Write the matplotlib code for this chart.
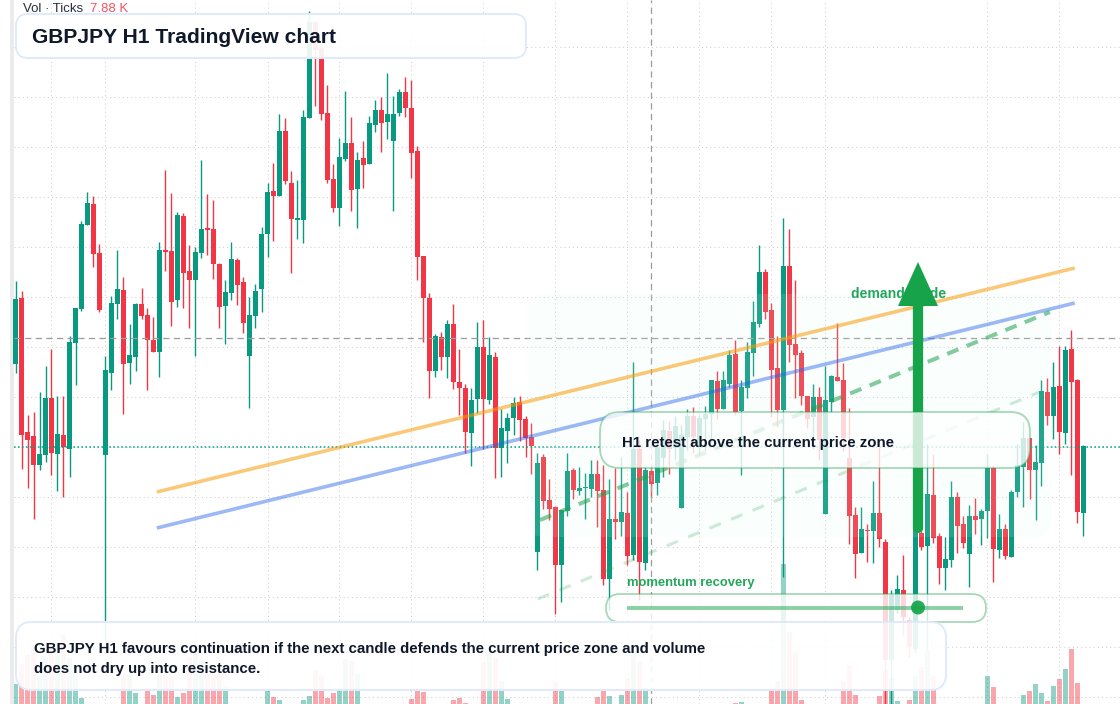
import matplotlib
matplotlib.use("Agg")
import matplotlib.pyplot as plt
from matplotlib.patches import Circle, FancyBboxPatch, Polygon, Rectangle
from matplotlib.transforms import Affine2D
import numpy as np

plt.rcParams["font.family"] = ["Liberation Sans", "DejaVu Sans"]

opens = [
    203.40, 204.06, 202.72, 202.68, 202.39, 202.49, 203.06, 202.50, 202.69, 202.55,
    203.61, 203.95, 204.79, 205.00, 204.51, 202.49, 203.31, 204.00, 204.14, 203.41,
    203.47, 204.00, 203.89, 203.64, 203.52, 204.53, 204.53, 204.04, 204.88, 204.33,
    204.24, 204.51, 204.75, 204.75, 204.40, 203.98, 204.11, 204.44, 204.22, 203.48,
    203.88, 204.15, 204.70, 205.13, 205.08, 205.73, 205.21, 204.84, 204.84, 205.86,
    206.82, 206.55, 205.91, 205.25, 204.96, 205.45, 205.61, 205.15, 205.46, 205.40,
    205.79, 205.94, 205.82, 205.63, 205.91, 206.12, 205.96, 205.53, 204.48, 204.06,
    203.33, 203.67, 203.47, 203.80, 203.22, 203.16, 202.71, 203.05, 203.57, 203.04,
    203.47, 202.56, 202.73, 202.86, 203.02, 202.85, 202.67, 201.52, 202.47, 202.04,
    201.97, 201.39, 201.93, 202.34, 202.13, 202.16, 202.15, 202.30, 202.14, 201.25,
    201.85, 201.82, 201.91, 201.49, 202.55, 201.41, 202.33, 202.21, 202.46, 202.73,
    202.56, 201.96, 202.67, 202.88, 202.57, 202.85, 202.90, 203.23, 202.95, 203.20,
    203.50, 202.93, 203.16, 203.51, 203.80, 204.32, 203.94, 203.36, 202.94, 204.38,
    203.60, 203.51, 203.08, 202.87, 203.07, 201.90, 203.02, 203.27, 203.24, 202.46,
    201.89, 201.51, 201.74, 201.73, 201.91, 201.62, 200.44, 200.94, 201.14, 200.84,
    200.55, 201.71, 201.58, 202.09, 201.68, 201.36, 201.44, 202.07, 201.80, 201.50,
    201.88, 201.85, 201.93, 202.36, 201.54, 201.75, 201.47, 202.12, 202.37, 202.66,
    202.34, 202.41, 203.12, 202.88, 203.18, 202.71, 203.55, 203.24, 201.91,
]
closes = [
    204.05, 202.69, 202.64, 202.39, 202.50, 203.06, 202.51, 202.70, 202.57, 203.62,
    203.96, 204.80, 205.01, 204.50, 203.94, 203.34, 204.01, 204.15, 203.40, 203.49,
    204.00, 203.88, 203.64, 203.52, 204.54, 204.52, 204.02, 204.89, 204.31, 204.24,
    204.52, 204.75, 204.74, 204.40, 203.97, 204.12, 204.45, 204.19, 203.81, 203.89,
    204.13, 204.70, 205.12, 205.08, 205.73, 205.23, 204.85, 204.86, 205.87, 206.82,
    206.54, 205.90, 205.24, 204.96, 205.47, 205.61, 205.14, 205.44, 205.39, 205.81,
    205.94, 205.81, 205.90, 205.90, 206.12, 205.96, 205.51, 204.47, 204.06, 203.33,
    203.68, 203.47, 203.80, 203.22, 203.16, 202.72, 203.04, 203.57, 203.05, 203.49,
    202.56, 202.76, 202.86, 203.01, 202.84, 202.66, 202.58, 202.41, 202.03, 201.95,
    201.39, 201.94, 202.33, 202.14, 202.16, 202.17, 202.30, 202.13, 201.25, 201.85,
    201.82, 201.92, 201.48, 202.55, 201.42, 202.34, 202.20, 202.57, 202.74, 202.55,
    202.78, 202.69, 202.88, 202.67, 202.86, 202.90, 203.24, 202.95, 203.24, 203.49,
    202.92, 203.17, 203.52, 203.82, 204.32, 203.92, 203.34, 202.94, 204.38, 203.59,
    203.49, 203.08, 202.85, 203.07, 202.64, 203.04, 203.28, 203.23, 202.66, 201.88,
    201.50, 201.75, 201.73, 201.91, 201.65, 200.44, 201.09, 201.15, 200.87, 200.57,
    201.90, 201.57, 202.10, 201.66, 201.36, 201.45, 202.07, 201.78, 201.61, 201.88,
    201.84, 201.93, 202.36, 201.55, 201.75, 201.48, 202.12, 202.39, 202.66, 202.34,
    202.42, 203.13, 202.88, 203.17, 202.72, 203.54, 203.22, 201.92, 202.58,
]
highs = [
    204.23, 204.13, 202.89, 202.92, 203.12, 203.38, 203.55, 203.08, 203.08, 203.68,
    203.96, 204.83, 205.12, 205.08, 204.60, 203.48, 204.08, 204.54, 204.27, 203.80,
    204.01, 204.16, 203.96, 203.87, 204.62, 205.34, 205.11, 204.92, 204.91, 204.59,
    204.57, 205.44, 205.10, 205.04, 204.41, 204.24, 204.62, 204.46, 204.27, 204.07,
    204.20, 204.77, 205.21, 205.41, 205.90, 205.86, 205.33, 205.24, 205.94, 206.93,
    206.82, 206.59, 206.19, 205.40, 205.66, 206.13, 205.87, 205.52, 205.63, 205.88,
    206.04, 206.07, 206.31, 206.08, 206.15, 206.27, 206.24, 205.58, 204.48, 204.11,
    203.70, 203.72, 203.84, 204.00, 203.55, 203.20, 203.16, 203.82, 203.84, 203.67,
    203.52, 202.95, 202.91, 203.07, 203.08, 202.88, 202.81, 202.51, 202.50, 202.25,
    201.98, 201.94, 202.51, 202.36, 202.37, 202.31, 202.44, 202.44, 202.39, 202.25,
    202.36, 202.47, 202.12, 203.42, 202.64, 202.37, 202.39, 202.57, 202.84, 202.83,
    202.88, 202.79, 202.95, 202.97, 202.90, 202.98, 203.24, 203.33, 203.33, 203.54,
    203.64, 203.24, 203.62, 204.03, 204.59, 204.35, 204.01, 203.68, 204.86, 204.75,
    204.24, 203.54, 203.08, 203.20, 203.17, 203.38, 203.29, 203.81, 203.41, 202.96,
    201.97, 201.97, 201.80, 202.23, 202.57, 201.65, 201.14, 201.29, 201.49, 200.87,
    201.99, 201.79, 202.60, 202.50, 201.71, 201.67, 202.23, 202.12, 201.88, 201.99,
    202.06, 201.95, 202.50, 202.39, 201.90, 201.80, 202.14, 202.60, 202.82, 202.66,
    202.59, 203.24, 203.26, 203.42, 203.58, 203.58, 203.74, 203.25, 202.59,
]
lows = [
    203.31, 202.35, 202.16, 201.85, 202.34, 202.42, 202.29, 202.13, 202.07, 202.27,
    203.19, 203.93, 204.79, 204.37, 203.92, 200.64, 203.14, 203.85, 202.90, 203.20,
    203.33, 203.85, 203.14, 203.52, 203.27, 204.33, 203.78, 203.97, 203.96, 203.76,
    203.48, 204.46, 204.49, 204.25, 203.76, 203.60, 204.04, 203.99, 203.71, 202.96,
    203.76, 203.92, 204.47, 204.63, 205.08, 205.20, 204.31, 204.65, 204.61, 205.86,
    205.98, 205.84, 205.21, 204.92, 204.78, 205.43, 204.93, 204.76, 205.16, 205.40,
    205.72, 205.52, 205.65, 204.93, 205.88, 205.87, 205.26, 204.24, 203.62, 203.06,
    203.27, 203.34, 203.26, 203.15, 202.89, 202.51, 202.38, 202.91, 202.55, 203.00,
    202.26, 202.27, 202.41, 202.69, 202.63, 202.47, 202.30, 201.34, 201.95, 201.84,
    200.90, 201.02, 201.88, 202.05, 202.09, 201.85, 202.07, 201.77, 201.19, 200.94,
    201.65, 201.68, 201.39, 201.44, 201.04, 201.34, 202.07, 202.09, 202.27, 202.30,
    202.44, 201.96, 202.54, 202.51, 202.49, 202.54, 202.61, 202.85, 202.95, 203.17,
    202.89, 202.29, 203.06, 203.28, 203.77, 203.85, 202.87, 202.77, 201.27, 203.42,
    203.06, 202.99, 202.76, 202.55, 202.44, 201.90, 202.92, 203.23, 202.53, 201.60,
    201.26, 201.51, 201.42, 201.41, 201.57, 200.00, 200.00, 200.91, 200.69, 200.47,
    200.51, 201.54, 200.54, 201.61, 201.20, 201.14, 201.37, 201.51, 201.56, 201.17,
    201.70, 201.59, 201.66, 201.22, 201.46, 201.45, 201.47, 202.07, 201.97, 202.05,
    201.84, 202.18, 202.79, 202.65, 202.50, 202.60, 202.29, 201.81, 201.68,
]
# tick volume in thousands, same colour as the candle above it
volumes = [
    2.0, 4.0, 4.9, 5.7, 2.8, 4.6, 5.0, 5.4, 6.9, 4.6,
    2.5, 0.6, 0, 0, 0, 0, 0, 0, 3.0, 3.0,
    1.1, 0, 1.6, 0.9, 3.0, 3.0, 2.6, 0.7, 1.1, 4.7,
    5.2, 4.4, 3.0, 3.0, 3.0, 1.7, 0, 0, 0, 0,
    0, 0, 1.4, 0.7, 0.4, 0, 0, 0, 0.4, 0.8,
    3.4, 2.8, 0.6, 1.1, 1.6, 4.5, 4.3, 3.0, 0, 0,
    0, 0, 0, 0, 0, 0, 0.5, 1.5, 1.2, 0,
    0, 0, 0, 0.4, 0.6, 0.1, 0, 0, 4.2, 5.2,
    4.6, 2.3, 0.5, 0, 0, 0, 0, 0, 0, 0,
    2.2, 1.3, 0, 0, 0, 0, 0, 0.7, 1.3, 0.8,
    0, 0.9, 2.6, 5.0, 4.3, 1.6, 0, 0, 0, 0,
    0, 0, 0, 0, 0, 0, 0, 0, 0, 0,
    0.1, 0.2, 0, 0, 0, 0, 1.4, 2.3, 14.0, 7.2,
    5.2, 0.4, 0, 0, 0, 0, 0, 0, 2.3, 3.9,
    0.9, 0, 0, 0, 0.8, 3.3, 2.6, 0.3, 0, 0.4,
    2.8, 3.7, 5.4, 2.8, 0, 0, 0, 0, 0, 0,
    0, 0, 2.8, 1.7, 0, 0, 0, 0, 0.9, 1.3,
    2.0, 1.1, 0.3, 1.8, 2.5, 3.5, 5.5, 2.1, 0,
]

grid_bars = [6, 15, 30, 42, 54, 66, 78, 90, 102, 114, 126, 135, 162, 174]
grid_prices = [206.57, 206.07, 205.57, 205.07, 204.57, 204.07, 203.57, 203.07,
               202.57, 202.07, 201.57, 201.07, 200.57, 200.07]
cross_bar = 105.95
cross_price = 203.66
last_price = 202.575

orange_x, orange_y = [23.55, 176.55], [202.12, 204.36]
blue_x, blue_y = [23.55, 176.55], [201.76, 204.01]
dash_x, dash_y = [87.4, 172.4], [201.84, 203.92]
faint_x, faint_y = [87.05, 170.7], [201.05, 203.12]

UP = "#089981"
DOWN = "#F23645"
INK = "#0f172a"
W, H = 1120, 704

fig = plt.figure(figsize=(W / 100, H / 100), dpi=100)
ax_vol = fig.add_axes([0, 0, 1, 1])
ax = fig.add_axes([0, 0, 1, 1], zorder=2)
ax.patch.set_visible(False)
x_left = -15.5 / 6
x_right = (W - 15.5) / 6
x_plot = x_left + 14 / 6  # chart area starts right of the grey strip
for a in (ax, ax_vol):
    a.set_xlim(x_left, x_right)
    a.set_xticks([])
    a.set_yticks([])
    for s in a.spines.values():
        s.set_visible(False)
ax.set_ylim(200.0, 207.04)
ax_vol.set_ylim(0, 70.4)

# overlay furniture is placed in screen pixels, y going down
px = Affine2D().scale(1, -1).translate(0, H)

bars = np.arange(len(opens))
o, c, h, l = map(np.array, (opens, closes, highs, lows))
colors = np.where(c >= o, UP, DOWN)

# grid and volume sit below the candles
dot = (0, (1, 3))
ax_vol.vlines(bars[grid_bars], 0, 70.4, color="#cfcfcf", lw=0.75, linestyle=dot, zorder=0)
ax_vol.hlines((np.array(grid_prices) - 200) * 10, x_plot, x_right,
              color="#cfcfcf", lw=0.75, linestyle=dot, zorder=0)
ax_vol.bar(bars, volumes, width=0.8, color=colors, alpha=0.44, lw=0, zorder=1)

ax.add_patch(Rectangle((10, 0), 4, H, transform=px, color="#ebebeb", lw=0, zorder=1))
ax.vlines(bars, l, h, color=colors, lw=1.0, zorder=2)
ax.bar(bars, np.maximum(np.abs(c - o), 0.015), bottom=np.minimum(o, c), width=0.8,
       color=colors, lw=0, zorder=3)

ax.hlines(cross_price, x_plot, x_right, color="#9b9b9b", lw=0.9, ls=(0, (5, 3.5)), zorder=4)
ax.axvline(cross_bar, color="#9b9b9b", lw=0.9, ls=(0, (5, 3.5)), zorder=4)
ax.hlines(last_price, x_plot, x_right, color="#00a08a", lw=1.1, ls=(0, (1, 1.6)), zorder=4)


def panel(x0, y0, x1, y1, radius, face, face_alpha, edge, edge_alpha, lw, z):
    ax.add_patch(FancyBboxPatch((x0, y0), x1 - x0, y1 - y0,
                                boxstyle=f"round,pad=0,rounding_size={radius}",
                                transform=px, fc=matplotlib.colors.to_rgba(face, face_alpha),
                                ec=matplotlib.colors.to_rgba(edge, edge_alpha),
                                lw=lw, zorder=z))


# demand zone tints the candles under it
panel(527, 294, 1052, 537, 18, "#dcfce7", 0.12, "#dcfce7", 0.0, 0, 5)

ax.plot(orange_x, orange_y, color="#f59e0b", alpha=0.55, lw=2.6, solid_capstyle="butt", zorder=6)
ax.plot(blue_x, blue_y, color="#2563eb", alpha=0.45, lw=2.6, solid_capstyle="butt", zorder=6)
ax.plot(dash_x, dash_y, color="#22a04f", alpha=0.55, lw=2.9, ls=(0, (3, 2.2)),
        dash_capstyle="butt", zorder=6)
ax.plot(faint_x, faint_y, color="#22a04f", alpha=0.22, lw=2.2, ls=(0, (4, 3.6)),
        dash_capstyle="butt", zorder=6)

ax.text(851, 294, "demand guide", transform=px, color="#22a75c", fontsize=10.1,
        fontweight="bold", va="center", zorder=6)
ax.plot([918, 918], [528, 306], transform=px, color="#16a34a", lw=7.4,
        solid_capstyle="round", zorder=7)
ax.add_patch(Polygon([(918, 262), (938, 306), (898, 306)], transform=px,
                     color="#16a34a", lw=0, zorder=7))

panel(600, 412, 1030, 468, 20, "white", 0.78, "#22a04f", 0.4, 1.3, 8)
panel(606, 594, 986, 622, 14, "white", 0.8, "#22a04f", 0.4, 1.3, 8)
panel(16, 14, 526, 58, 12, "white", 0.92, "#e0eafc", 1.0, 1.4, 9)
panel(16, 622, 946, 690, 16, "white", 0.92, "#e0eafc", 1.0, 1.4, 9)

ax.plot([627, 963], [607.5, 607.5], transform=px, color="#16a34a", alpha=0.5, lw=2.8,
        solid_capstyle="butt", zorder=10)
ax.add_patch(Circle((918, 607.5), 7, transform=px, color="#16a34a", alpha=0.92, lw=0, zorder=10))
ax.text(627, 583, "momentum recovery", transform=px, color="#22a75c", fontsize=9.36,
        fontweight="bold", va="center", zorder=10)

ax.text(23, 9, "Vol · Ticks", transform=px, color="#2a2e39", fontsize=9.5, va="center", zorder=10)
ax.text(90, 9, "7.88 K", transform=px, color="#f7525f", fontsize=9.5, va="center", zorder=10)
ax.text(32, 37.5, "GBPJPY H1 TradingView chart", transform=px, color=INK, fontsize=15.15,
        fontweight="bold", va="center", zorder=10)
ax.text(622, 442.5, "H1 retest above the current price zone", transform=px, color=INK,
        fontsize=10.77, fontweight="bold", va="center", zorder=10)
ax.text(34, 648.5, "GBPJPY H1 favours continuation if the next candle defends the current price zone and volume",
        transform=px, color=INK, fontsize=10.77, fontweight="bold", va="center", zorder=10)
ax.text(34, 668.5, "does not dry up into resistance.", transform=px, color=INK, fontsize=10.77,
        fontweight="bold", va="center", zorder=10)

fig.savefig("out.png", dpi=100)
